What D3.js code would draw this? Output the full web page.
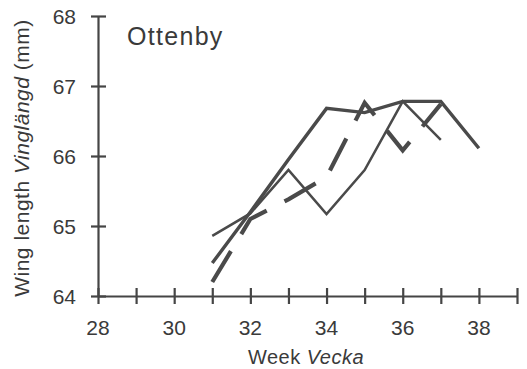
<!DOCTYPE html>
<html>
<head>
<meta charset="utf-8">
<script src="https://cdn.jsdelivr.net/npm/d3@7"></script>
<style>
  html, body { margin: 0; padding: 0; background: #fff; }
  svg text { font-family: "Liberation Sans", Arial, Helvetica, sans-serif; fill: #3a3a3a; }
</style>
</head>
<body>
<svg id="chart" width="527" height="369"></svg>
<script>
// Wing length by week, Ottenby — three yearly series
const weeksLong = [31, 32, 33, 34, 35, 36, 37, 38];
const weeksShort = [31, 32, 33, 34, 35, 36, 37];
const seriesThick = [64.47, 65.2, 65.95, 66.68, 66.62, 66.78, 66.78, 66.11];
const seriesThin = [64.86, 65.18, 65.8, 65.17, 65.8, 66.78, 66.23];
const seriesDashed = [64.2, 65.1, 65.38, 65.7, 66.76, 66.08, 66.74];

const xTickValues = [28, 29, 30, 31, 32, 33, 34, 35, 36, 37, 38, 39];
const xTickLabels = [28, 30, 32, 34, 36, 38];
const yTickValues = [64, 65, 66, 67, 68];

const svg = d3.select("#chart");
const ink = "#454545";

const x = d3.scaleLinear().domain([28, 39]).range([98, 517]);
const y = d3.scaleLinear().domain([64, 68]).range([296, 16]);

// X axis: line with crossing ticks
const xAxis = svg.append("g").attr("transform", `translate(0,${y(64)})`)
  .call(d3.axisBottom(x).tickValues(xTickValues).tickSizeInner(8).tickSizeOuter(0).tickFormat(""));
xAxis.select(".domain").attr("stroke", ink).attr("stroke-width", 2.2);
xAxis.selectAll(".tick line").attr("stroke", ink).attr("stroke-width", 2.2).attr("y1", -8).attr("y2", 8);

// Y axis
const yAxis = svg.append("g").attr("transform", `translate(${x(28)},0)`)
  .call(d3.axisLeft(y).tickValues(yTickValues).tickSizeInner(8).tickSizeOuter(0).tickFormat(""));
yAxis.select(".domain").attr("stroke", ink).attr("stroke-width", 2.2);
yAxis.selectAll(".tick line").attr("stroke", ink).attr("stroke-width", 2.2).attr("x1", -7).attr("x2", 8);

// Tick labels
svg.append("g").selectAll("text").data(xTickLabels).join("text")
  .attr("x", d => x(d)).attr("y", 335)
  .attr("text-anchor", "middle").attr("font-size", 21)
  .text(d => d);

svg.append("g").selectAll("text").data(yTickValues).join("text")
  .attr("x", 76).attr("y", d => y(d) + 7.5)
  .attr("text-anchor", "end").attr("font-size", 21)
  .text(d => d);

// Axis titles
const xt = svg.append("text").attr("x", 306).attr("y", 364)
  .attr("text-anchor", "middle").attr("font-size", 20).attr("letter-spacing", 0.5);
xt.append("tspan").text("Week ");
xt.append("tspan").attr("font-style", "italic").text("Vecka");

const yt = svg.append("text")
  .attr("transform", "translate(29,158) rotate(-90)")
  .attr("text-anchor", "middle").attr("font-size", 21).attr("letter-spacing", 0.5);
yt.append("tspan").text("Wing length ");
yt.append("tspan").attr("font-style", "italic").text("Vinglängd");
yt.append("tspan").text(" (mm)");

// Site label
svg.append("text").attr("x", 127).attr("y", 45)
  .attr("font-size", 25).attr("letter-spacing", 1.3).text("Ottenby");

// Series lines
const line = d3.line().x(d => x(d[0])).y(d => y(d[1]));

function drawSeries(weeks, values, width, dash) {
  const path = svg.append("path")
    .datum(weeks.map((w, i) => [w, values[i]]))
    .attr("d", line)
    .attr("fill", "none")
    .attr("stroke", "#4a4a4a")
    .attr("stroke-width", width)
    .attr("stroke-linejoin", "miter")
    .attr("stroke-linecap", "butt");
  if (dash) path.attr("stroke-dasharray", dash);
}

drawSeries(weeksShort, seriesThin, 2.5, null);
drawSeries(weeksShort, seriesDashed, 4.2, "36 20");
drawSeries(weeksLong, seriesThick, 3.4, null);
</script>
</body>
</html>
